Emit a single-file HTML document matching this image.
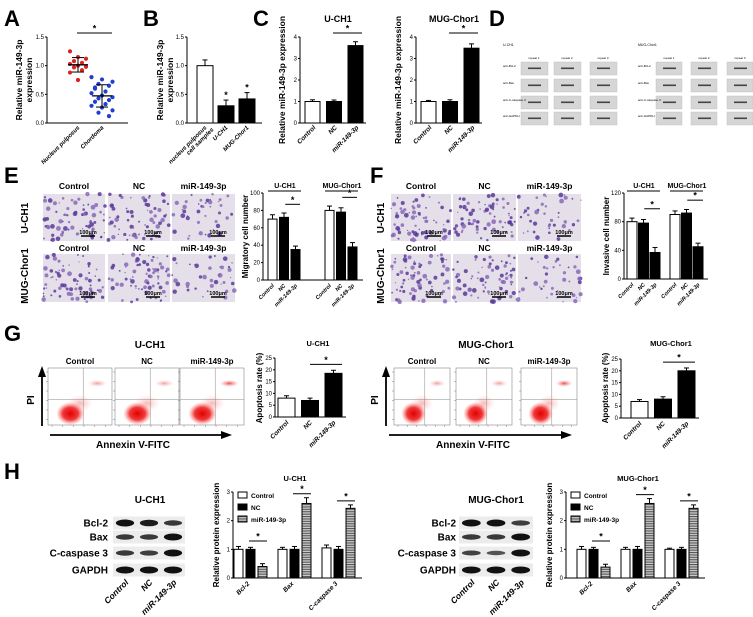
<!DOCTYPE html>
<html><head><meta charset="utf-8"><style>
html,body{margin:0;padding:0;background:#fff}
svg{display:block;font-family:"Liberation Sans",Arial,sans-serif}
.L{font-weight:bold;font-size:22px}
.t{font-weight:bold;font-size:8px}
.tk{font-size:6px}
.yt{font-weight:bold;font-size:8.5px}
</style></head><body>
<svg id="fig" width="753" height="617" viewBox="0 0 753 617" xmlns="http://www.w3.org/2000/svg">
<defs>
<pattern id="stripe" width="4" height="2.4" patternUnits="userSpaceOnUse"><rect width="4" height="2.4" fill="#ccc"/><rect width="4" height="1.1" fill="#555"/></pattern>
<radialGradient id="cloud" cx="50%" cy="50%" r="50%"><stop offset="0" stop-color="#e00000"/><stop offset="0.55" stop-color="#ee2222" stop-opacity="0.9"/><stop offset="1" stop-color="#ff6666" stop-opacity="0"/></radialGradient>
<radialGradient id="cloud2" cx="50%" cy="50%" r="50%"><stop offset="0" stop-color="#e83030" stop-opacity="0.85"/><stop offset="1" stop-color="#ff8888" stop-opacity="0"/></radialGradient>
</defs>
<text class="L" x="4" y="26">A</text>
<text class="L" x="143" y="26">B</text>
<text class="L" x="253" y="26">C</text>
<text class="L" x="489" y="26">D</text>
<text class="L" x="4" y="183">E</text>
<text class="L" x="370" y="183">F</text>
<text class="L" x="4" y="341">G</text>
<text class="L" x="4" y="479">H</text>
<g id="g"></g>
</svg>
<script>
// ---- data ----
const aNucleus=[1.25,1.15,1.12,1.08,1.05,1.03,1.0,0.98,0.97,0.92,0.88,0.75];
const aChordoma=[0.8,0.76,0.72,0.68,0.65,0.6,0.55,0.52,0.48,0.45,0.43,0.4,0.37,0.33,0.3,0.27,0.22,0.18,0.12,0.62];
const bCats=["nucleus pulposus|cell samples","U-CH1","MUG-Chor1"];
const bVals=[1.0,0.3,0.42];const bErr=[0.1,0.1,0.11];
const cCats=["Control","NC","miR-149-3p"];
const c1Vals=[1.0,1.0,3.6];const c1Err=[0.08,0.07,0.18];
const c2Vals=[1.0,1.0,3.48];const c2Err=[0.05,0.08,0.2];
const eVals=[70,72,35,80,78,38];const eErr=[5,5,4,5,5,5];
const fVals=[80,78,37,90,92,45];const fErr=[5,5,7,5,5,5];
const g1Vals=[8,7,18.5];const g1Err=[1,1,1.3];
const g2Vals=[7,8,20];const g2Err=[0.8,1,1.2];
const hCats=["Bcl-2","Bax","C-caspase 3"];
const h1Ctrl=[1,1,1.05],h1NC=[1,1,1],h1Mir=[0.4,2.6,2.43];
const h1CtrlE=[0.1,0.07,0.1],h1NCE=[0.07,0.1,0.1],h1MirE=[0.1,0.2,0.12];
const h2Ctrl=[1,1,1],h2NC=[1,1,1],h2Mir=[0.38,2.6,2.43];
const h2CtrlE=[0.1,0.07,0.04],h2NCE=[0.07,0.1,0.07],h2MirE=[0.1,0.17,0.12];
const tick4=[0,1,2,3,4],tick15=[0,0.5,1.0,1.5],tick100=[0,20,40,60,80,100],tick120=[0,40,80,120],tick25=[0,5,10,15,20,25],tick3=[0,1,2,3];

// ---- helpers ----
const G=document.getElementById('g');const NS='http://www.w3.org/2000/svg';
function el(t,a,txt){const e=document.createElementNS(NS,t);for(const k in a)e.setAttribute(k,a[k]);if(txt!==undefined)e.textContent=txt;G.appendChild(e);return e;}
function sc(v,y0,yT,max){return y0-v/max*(y0-yT);}
function axes(ax,y0,yT,xEnd,max,ticks,fmt,name){
  let a=el('line',{x1:ax,y1:y0,x2:ax,y2:yT,stroke:'#000','stroke-width':1});
  
  let b=el('line',{x1:ax,y1:y0,x2:xEnd,y2:y0,stroke:'#000','stroke-width':1});
  
  ticks.forEach(v=>{const y=sc(v,y0,yT,max);el('line',{x1:ax-2,y1:y,x2:ax,y2:y,stroke:'#000'});
    const t=el('text',{x:ax-3,y:y+2,'text-anchor':'end',class:'tk'},fmt(v));
    });
}
function bar(x,w,v,e,fill,y0,yT,max,name){
  const y=sc(v,y0,yT,max),ye=sc(v+e,y0,yT,max);
  el('line',{x1:x+w/2,y1:y,x2:x+w/2,y2:ye,stroke:'#000'});
  el('line',{x1:x+w/2-2.5,y1:ye,x2:x+w/2+2.5,y2:ye,stroke:'#000'});
  const r=el('rect',{x:x,y:y,width:w,height:y0-y,fill:fill,stroke:'#000','stroke-width':1});
  
  return ye;
}
function star(x1,x2,y){el('line',{x1:x1,y1:y,x2:x2,y2:y,stroke:'#000'});
  const s=el('text',{x:(x1+x2)/2,y:y-1.5,'text-anchor':'middle',style:'font-size:9px;font-weight:bold'},'*');
  }
function rlab(x,y,txt,name,size){const t=el('text',{x:x,y:y,'text-anchor':'end',transform:`rotate(-45 ${x} ${y})`,style:`font-size:${size||6}px;font-style:italic;font-weight:bold`},txt);
  }
function ytitle(x,y,lines,name,size){lines.forEach((l,i)=>{const t=el('text',{x:x+i*10,y:y,'text-anchor':'middle',transform:`rotate(-90 ${x+i*10} ${y})`,style:`font-size:${size||8.5}px;font-weight:bold`},l);
  });}
function txt(x,y,s,name,style,anchor){const t=el('text',{x:x,y:y,'text-anchor':anchor||'middle',style:style||'font-size:8px;font-weight:bold'},s);
  return t;}
const FILL3=['#fff','#000','#000'];
const f1=v=>v.toFixed(1),f0=v=>String(v);

// ---- A ----
(function(){const ax=47,y0=123,yT=37,max=1.5;axes(ax,y0,yT,128,max,tick15,f1,'a');
  aNucleus.forEach((v,i)=>{const c=el('circle',{cx:78+((i*7)%5-2)*4,cy:sc(v,y0,yT,max),r:2.1,fill:'#e02020'});});
  aChordoma.forEach((v,i)=>{const c=el('circle',{cx:102+((i*3)%7-3)*3.5,cy:sc(v,y0,yT,max),r:2.1,fill:'#1f3fd0'});});
  [[aNucleus,78],[aChordoma,102]].forEach(([d,cx])=>{const m=d.reduce((a,b)=>a+b,0)/d.length;const sd=Math.sqrt(d.reduce((a,b)=>a+(b-m)*(b-m),0)/d.length);
    el('line',{x1:cx-10,x2:cx+10,y1:sc(m,y0,yT,max),y2:sc(m,y0,yT,max),stroke:'#000','stroke-width':1.3});
    el('line',{x1:cx,x2:cx,y1:sc(m-sd,y0,yT,max),y2:sc(m+sd,y0,yT,max),stroke:'#000'});
    [m-sd,m+sd].forEach(v=>el('line',{x1:cx-6,x2:cx+6,y1:sc(v,y0,yT,max),y2:sc(v,y0,yT,max),stroke:'#000'}));});
  star(77,112,33);ytitle(22,80,["Relative miR-149-3p","expression"],'a-y-axis-title');
  rlab(80,128,"Nucleus pulposus",'a-x-label');rlab(104,128,"Chordoma",'a-x-label');})();

// ---- B ----
(function(){const ax=187,y0=123,yT=37,max=1.5;axes(ax,y0,yT,262,max,tick15,f1,'b');
  bVals.forEach((v,i)=>{const ye=bar(197+i*21,16,v,bErr[i],FILL3[i],y0,yT,max,'b-bar-'+i);if(i>0)txt(205+i*21,ye-2,'*','significance-star','font-size:9px;font-weight:bold');
    bCats[i].split('|').forEach((l,j)=>rlab(207+i*21+j*7,128+j*2,l,'b-x-label'));});
  ytitle(163,80,["Relative miR-149-3p","expression"],'b-y-axis-title');})();

// ---- C ----
[[300,c1Vals,c1Err,'U-CH1','c1'],[416,c2Vals,c2Err,'MUG-Chor1','c2']].forEach(([ax,vals,err,title,n])=>{
  const y0=123,yT=37,max=4;axes(ax,y0,yT,ax+66,max,tick4,f0,n);
  vals.forEach((v,i)=>{bar(ax+5+i*21.5,15,v,err[i],FILL3[i],y0,yT,max,n+'-bar-'+i);rlab(ax+16+i*21.5,128,cCats[i],n+'-x-label',6.5);});
  star(ax+33,ax+62,33);txt(ax+38,22,title,n+'-title','font-size:9px;font-weight:bold');
  ytitle(ax-15,80,["Relative miR-149-3p expression"],n+'-y-axis-title');});

// ---- D blots ----
[[521,[521,554,590],'U-CH1',27],[656,[656,691,727],'MUG-Chor1',26]].forEach(([x0,cols,title,w])=>{
  txt(x0-18,46,title,'d-title','font-size:3.5px','start');
  cols.forEach((cx,ci)=>{txt(cx+13,59,'repeat '+(ci+1),'d-repeat-label','font-size:3px');
    [62,79,96,112].forEach((ry,ri)=>{const r=el('rect',{x:cx,y:ry,width:w,height:13,fill:'#d6d6d6',stroke:'#bbb','stroke-width':0.4});
      el('rect',{x:cx+7,y:ry+5.5,width:13,height:1.6,fill:'#444'});});});
  ['anti-Bcl-2','anti-Bax','anti-C-caspase 3','anti-GAPDH'].forEach((l,ri)=>txt(x0-18,[67,84,101,117][ri],l,'d-antibody-label','font-size:3px','start'));});

// ---- E / F transwell images ----
function dots(x,y,w,h,seed,density){let s=seed;const rnd=()=>{s=(s*9301+49297)%233280;return s/233280;};
  const r=el('rect',{x:x,y:y,width:w,height:h,fill:'#e4dfe8'});
  for(let i=0;i<density;i++){el('circle',{cx:x+rnd()*w,cy:y+rnd()*h,r:0.6+rnd()*1.8,fill:rnd()<0.5?'#5a3a9a':'#8a6ab8','fill-opacity':0.85});}
  el('line',{x1:x+w-24,x2:x+w-10,y1:y+h-5,y2:y+h-5,stroke:'#000','stroke-width':1.5});
  txt(x+w-17,y+h-7,'100μm','scale-bar-label','font-size:5.5px;font-weight:bold');}
[[43,[[43,62],[108,62],[172,63]],25,1],[376,[[391,60],[453,63],[518,63]],381,2]].forEach(([_,cols,rx,k])=>{
  const names=['Control','NC','miR-149-3p'];
  cols.forEach(([cx,w],ci)=>{txt(cx+w/2,189,names[ci],'column-title','font-size:8.5px;font-weight:bold');txt(cx+w/2,251,names[ci],'column-title','font-size:8.5px;font-weight:bold');
    dots(cx,194,w,47,k*100+ci*7+3,ci==2?40:70);dots(cx,254,w,48,k*100+ci*7+50,ci==2?40:70);});
  ytitle(rx+3,218,['U-CH1'],'row-label',10);ytitle(rx+3,276,['MUG-Chor1'],'row-label',10);});

// ---- E / F bar charts ----
[[263,280,193,100,tick100,eVals,eErr,[268,325],'Migratory cell number','e',11.5,9],
 [624,279,193,120,tick120,fVals,fErr,[627,670],'Invasive cell number','f',11.5,10]].forEach(([ax,y0,yT,max,ticks,vals,err,gs,yl,n,step,w])=>{
  axes(ax,y0,yT,gs[1]+38,max,ticks,f0,n);
  vals.forEach((v,i)=>{const g=Math.floor(i/3),j=i%3;const x=gs[g]+j*step;bar(x,w,v,err[i],FILL3[j],y0,yT,max,n+'-bar-'+i);rlab(x+w/2+2,y0+6,cCats[j],n+'-x-label',5.5);});
  ['U-CH1','MUG-Chor1'].forEach((t,g)=>{txt(gs[g]+17,188,t,n+'-group-label','font-size:7px;font-weight:bold');el('line',{x1:gs[g],x2:gs[g]+33,y1:191,y2:191,stroke:'#000'});
    star(gs[g]+step*1.5,gs[g]+step*2+w,sc(Math.max(vals[g*3],vals[g*3+1])+15*max/100,y0,yT,max));});
  ytitle(ax-15,(y0+yT)/2,[yl],n+'-y-axis-title',8);});

// ---- G flow plots ----
function flow(x,y,w,h,strong,seed){const r=el('rect',{x:x,y:y,width:w,height:h,fill:'#fff',stroke:'#888','stroke-width':0.6});
  el('line',{x1:x+w*0.55,x2:x+w*0.55,y1:y,y2:y+h,stroke:'#888','stroke-width':0.5});el('line',{x1:x,x2:x+w,y1:y+h*0.55,y2:y+h*0.55,stroke:'#888','stroke-width':0.5});
  el('ellipse',{cx:x+w*0.35,cy:y+h*0.8,rx:w*0.22,ry:h*0.2,fill:'url(#cloud)'});
  el('ellipse',{cx:x+w*0.5,cy:y+h*0.62,rx:w*0.2,ry:h*0.15,fill:'url(#cloud2)','fill-opacity':0.4});
  el('ellipse',{cx:x+w*0.77,cy:y+h*0.27,rx:w*0.15,ry:h*0.06,fill:'url(#cloud2)','fill-opacity':strong?1:0.55});
  for(let i=0;i<6;i++){el('line',{x1:x+4+i*w/6,x2:x+4+i*w/6,y1:y+h,y2:y+h+2,stroke:'#666','stroke-width':0.4});el('line',{x1:x-2,x2:x,y1:y+4+i*h/6,y2:y+4+i*h/6,stroke:'#666','stroke-width':0.4});}}
[[[48,115,180],64,150,42,50,230,'U-CH1',133],[[394,456,521],56,486,386,389,570,'MUG-Chor1',473]].forEach(([xs,w,tx,px,a1,a2,title,ax])=>{
  txt(tx,348,title,'g-title','font-size:10px;font-weight:bold');
  ['Control','NC','miR-149-3p'].forEach((t,i)=>{txt(xs[i]+w/2,364,t,'g-column-title','font-size:8px;font-weight:bold');flow(xs[i],368,w,57,i==2);});
  el('line',{x1:px,x2:px,y1:426,y2:375,stroke:'#000','stroke-width':1.8});el('polygon',{points:`${px-4},377 ${px+4},377 ${px},366`,fill:'#000'});
  ytitle(px-8,400,['PI'],'pi-axis-title',10);
  el('line',{x1:a1,x2:a2-8,y1:435,y2:435,stroke:'#000','stroke-width':1.8});el('polygon',{points:`${a2-9},431 ${a2-9},439 ${a2+2},435`,fill:'#000'});
  txt(ax,448,'Annexin V-FITC','annexin-axis-title','font-size:10px;font-weight:bold');});
[[275,417,358,g1Vals,g1Err,278,'U-CH1','g1'],[621,418,359,g2Vals,g2Err,631,'MUG-Chor1','g2']].forEach(([ax,y0,yT,vals,err,x0,title,n])=>{
  axes(ax,y0,yT,x0+68,25,tick25,f0,n);
  vals.forEach((v,i)=>{bar(x0+i*23.5,17,v,err[i],FILL3[i],y0,yT,25,n+'-bar-'+i);rlab(x0+i*23.5+11,y0+6,cCats[i],n+'-x-label',6.5);});
  star(x0+32,x0+64,sc(vals[2]+err[2]+2.5,y0,yT,25));txt(x0+40,346,title,n+'-title','font-size:7.5px;font-weight:bold');
  ytitle(ax-13,388,['Apoptosis rate (%)'],n+'-y-axis-title',8);});

// ---- H blots ----
const hInt=[[[1,0.9,0.6],[0.6,0.6,1],[0.6,0.55,1],[1,1,1]],[[1,1,0.55],[0.6,0.6,1],[0.5,0.35,1],[1,1,1]]];
[[113,185,108,150,'U-CH1',0],[459,533,456,496,'MUG-Chor1',1]].forEach(([x1,x2,lx,tx,title,k])=>{
  txt(tx,503,title,'h-blot-title','font-size:10px;font-weight:bold');
  ['Bcl-2','Bax','C-caspase 3','GAPDH'].forEach((l,ri)=>{const cy=[523,537,553,570][ri];
    const r=el('rect',{x:x1,y:cy-6.5,width:x2-x1,height:13,fill:'#ececec'});
    txt(lx,cy+3.5,l,'h-blot-label','font-size:10px;font-weight:bold','end');
    hInt[k][ri].forEach((s,ci)=>{const bw=(x2-x1)/3;el('ellipse',{cx:x1+bw*ci+bw/2,cy:cy,rx:bw*0.38,ry:1.5+2*s,fill:'#111','fill-opacity':0.55+0.45*s});});});
  ['Control','NC','miR-149-3p'].forEach((l,ci)=>rlab(x1+(x2-x1)/6*(2*ci+1)+4,583,l,'h-blot-x-label',8.5));});

// ---- H bar charts ----
[[233,[234,278,322],h1Ctrl,h1NC,h1Mir,h1CtrlE,h1NCE,h1MirE,'U-CH1',295,'h1'],[566,[577,621,665],h2Ctrl,h2NC,h2Mir,h2CtrlE,h2NCE,h2MirE,'MUG-Chor1',638,'h2']].forEach(([ax,gs,c,nc,m,ce,ne,me,title,tx,n])=>{
  const y0=578,yT=492,max=3;axes(ax,y0,yT,gs[2]+40,max,tick3,f0,n);
  hCats.forEach((cat,g)=>{bar(gs[g],9,c[g],ce[g],'#fff',y0,yT,max,n+'-control-bar');bar(gs[g]+12,9,nc[g],ne[g],'#000',y0,yT,max,n+'-nc-bar');
    const ye=bar(gs[g]+24,9,m[g],me[g],'url(#stripe)',y0,yT,max,n+'-mir-bar');
    star(gs[g]+15,gs[g]+33,Math.min(ye,sc(Math.max(c[g],nc[g])+0.15,y0,yT,max))-4);
    rlab(gs[g]+16,y0+6,cat,n+'-x-label',6.5);});
  txt(tx,481,title,n+'-title','font-size:7.5px;font-weight:bold');
  [['Control','#fff'],['NC','#000'],['miR-149-3p','url(#stripe)']].forEach(([l,f],i)=>{const r=el('rect',{x:ax+5,y:492+i*12,width:9,height:6,fill:f,stroke:'#000'});
    txt(ax+18,498+i*12,l,'legend-entry','font-size:6.5px;font-weight:bold','start');});
  ytitle(ax-14,535,['Relative protein expression'],n+'-y-axis-title',8);});
</script>
</body></html>
